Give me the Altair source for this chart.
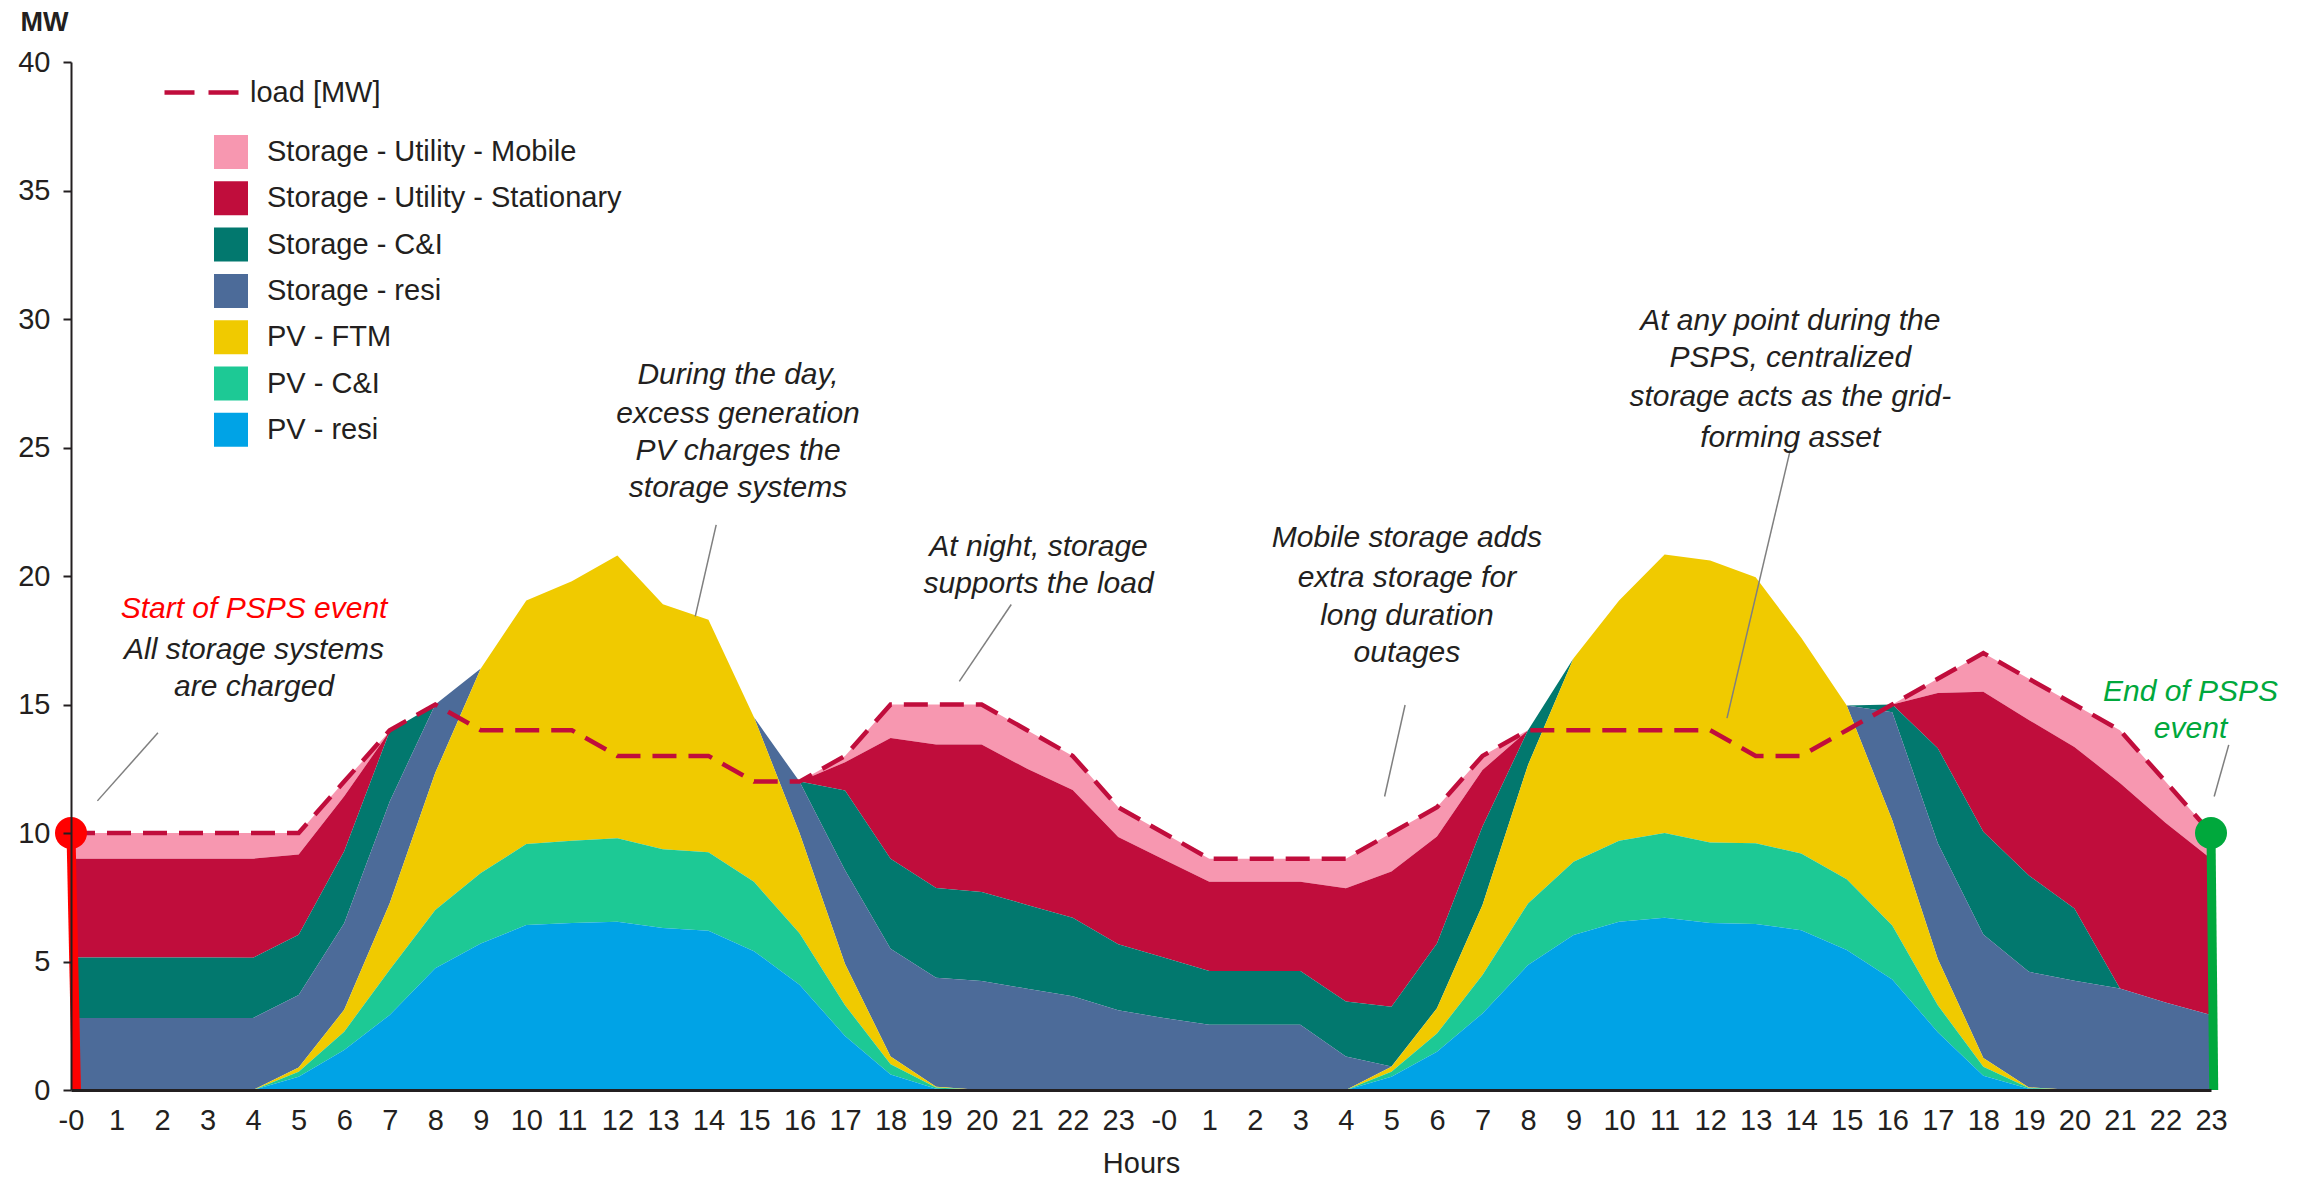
import altair as alt
import pandas as pd

FONT = "Liberation Sans"
INK = "#231F20"

# ---------------- data ----------------
hours = list(range(48))
tick_labels = ["-0"] + [str(h) for h in range(1, 24)] + ["-0"] + [str(h) for h in range(1, 24)]

pv_resi = [0, 0, 0, 0, 0, 0.52, 1.56, 2.92, 4.74, 5.7, 6.42, 6.5, 6.55, 6.3, 6.2, 5.4, 4.1, 2.1, 0.6, 0.05, 0, 0, 0, 0,
           0, 0, 0, 0, 0, 0.52, 1.49, 2.98, 4.86, 6.03, 6.55, 6.7, 6.5, 6.46, 6.22, 5.45, 4.3, 2.25, 0.55, 0.05, 0, 0, 0, 0]
pv_ci = [0, 0, 0, 0, 0, 0.19, 0.71, 1.76, 2.26, 2.74, 3.15, 3.2, 3.25, 3.07, 3.05, 2.7, 2.0, 1.2, 0.4, 0.05, 0, 0, 0, 0,
         0, 0, 0, 0, 0, 0.19, 0.71, 1.49, 2.4, 2.85, 3.15, 3.3, 3.13, 3.14, 2.98, 2.75, 2.1, 1.05, 0.35, 0.03, 0, 0, 0, 0]
pv_ftm = [0, 0, 0, 0, 0, 0.17, 0.85, 2.59, 5.34, 7.96, 9.48, 10.1, 11.0, 9.53, 9.05, 6.4, 3.9, 1.6, 0.3, 0.03, 0, 0, 0, 0,
          0, 0, 0, 0, 0, 0.19, 0.98, 2.73, 5.39, 7.92, 9.35, 10.84, 10.97, 10.35, 8.4, 6.76, 4.1, 1.8, 0.35, 0.02, 0, 0, 0, 0]
st_resi = [2.8, 2.8, 2.8, 2.8, 2.8, 2.82, 3.37, 3.96, 2.66, 0, 0, 0, 0, 0, 0, 0, 2.0, 3.65, 4.2, 4.24, 4.24, 3.94, 3.65, 3.1,
           2.8, 2.54, 2.54, 2.54, 1.3, 0.01, 0, 0, 0, 0, 0, 0, 0, 0, 0, 0, 4.2, 4.5, 4.8, 4.5, 4.25, 3.95, 3.4, 2.92]
st_ci = [2.36, 2.36, 2.36, 2.36, 2.35, 2.34, 2.8, 2.73, 0, 0, 0, 0, 0, 0, 0, 0, 0, 3.1, 3.5, 3.49, 3.46, 3.26, 3.05, 2.57,
         2.36, 2.09, 2.09, 2.09, 2.14, 2.33, 2.52, 3.05, 1.35, 0, 0, 0, 0, 0, 0, 0, 0.3, 3.7, 4.0, 3.75, 2.81, 0, 0, 0]
st_stat = [3.84, 3.84, 3.84, 3.84, 3.85, 3.12, 2.14, 0, 0, 0, 0, 0, 0, 0, 0, 0, 0, 1.1, 4.7, 5.58, 5.74, 5.3, 4.97, 4.17,
           3.81, 3.47, 3.47, 3.47, 4.41, 5.26, 4.16, 2.2, 0, 0, 0, 0, 0, 0, 0, 0, 0, 2.15, 5.45, 6.05, 6.29, 8.0, 7.0, 6.08]
st_mob = [1.0, 1.0, 1.0, 1.0, 1.0, 0.84, 0.57, 0, 0, 0, 0, 0, 0, 0, 0, 0, 0, 0.25, 1.3, 1.56, 1.56, 1.5, 1.33, 1.16,
          1.03, 0.9, 0.9, 0.9, 1.15, 1.5, 1.14, 0.55, 0, 0, 0, 0, 0, 0, 0, 0, 0, 0.55, 1.5, 1.6, 1.65, 2.05, 1.6, 1.0]
load = [10, 10, 10, 10, 10, 10, 12, 14, 15, 14, 14, 14, 13, 13, 13, 12, 12, 13, 15, 15, 15, 14, 13, 11,
        10, 9, 9, 9, 9, 10, 11, 13, 14, 14, 14, 14, 14, 13, 13, 14, 15, 16, 17, 16, 15, 14, 12, 10]

series_names = ["Storage - Utility - Mobile", "Storage - Utility - Stationary", "Storage - C&I",
                "Storage - resi", "PV - FTM", "PV - C&I", "PV - resi"]
series_colors = ["#F797B0", "#C00D3C", "#02786E", "#4C6B99", "#F0CA00", "#1DC995", "#00A3E6"]
series_values = [st_mob, st_stat, st_ci, st_resi, pv_ftm, pv_ci, pv_resi]

load_name = "load [MW]"
load_color = "#C00D3C"

# annotations (text, hour, MW, colour)
RED = "#FF0000"
GREEN = "#00A83C"
annot_text = ["Start of PSPS event", "All storage systems", "are charged",
              "During the day,", "excess generation", "PV charges the", "storage systems",
              "At night, storage", "supports the load",
              "Mobile storage adds", "extra storage for", "long duration", "outages",
              "At any point during the", "PSPS, centralized", "storage acts as the grid-", "forming asset",
              "End of PSPS", "event"]
annot_hour = [4.02, 4.02, 4.02,
              14.65, 14.65, 14.65, 14.65,
              21.25, 21.25,
              29.34, 29.34, 29.34, 29.34,
              37.76, 37.76, 37.76, 37.76,
              46.55, 46.55]
annot_mw = [18.71, 17.11, 15.67,
            27.84, 26.29, 24.86, 23.42,
            21.13, 19.69,
            21.47, 19.92, 18.43, 16.99,
            29.91, 28.47, 26.98, 25.37,
            15.5, 14.06]
annot_color = [RED, INK, INK, INK, INK, INK, INK, INK, INK, INK, INK, INK, INK, INK, INK, INK, INK, GREEN, GREEN]

# leader lines (start hour, start MW, end hour, end MW)
lead_h1 = [0.58, 13.71, 19.51, 28.85, 36.37, 47.07]
lead_m1 = [11.25, 18.43, 15.9, 11.42, 14.47, 11.42]
lead_h2 = [1.91, 14.17, 20.65, 29.30, 37.76, 47.39]
lead_m2 = [13.9, 21.99, 18.89, 14.98, 24.91, 13.43]

# event markers
mark_hour = [0, 47]
mark_mw = [10, 10]
mark_hour2 = [0.12, 47.06]
mark_mw2 = [0, 0]
mark_color = [RED, GREEN]

# ---------------- tables ----------------
rows = []
n = len(series_names)
for k, (name, vals) in enumerate(zip(series_names, series_values)):
    for h, v in zip(hours, vals):
        rows.append({"hour": h, "mw": v, "series": name, "stack": n - 1 - k})
area_df = pd.DataFrame(rows)
load_df = pd.DataFrame({"hour": hours, "mw": load, "name": load_name})
annot_df = pd.DataFrame({"hour": annot_hour, "mw": annot_mw, "text": annot_text, "color": annot_color})
lead_df = pd.DataFrame({"hour": lead_h1, "mw": lead_m1, "hour2": lead_h2, "mw2": lead_m2})
mark_df = pd.DataFrame({"hour": mark_hour, "mw": mark_mw, "hour2": mark_hour2, "mw2": mark_mw2, "color": mark_color})

# ---------------- encodings ----------------
label_expr = "[" + ",".join("'" + t + "'" for t in tick_labels) + "][datum.value]"

x_axis = alt.Axis(values=hours, labelExpr=label_expr, ticks=False, tickSize=0, labelPadding=30,
                  labelBaseline="middle", labelFontSize=29, labelFont=FONT, labelColor=INK,
                  labelOverlap=False, labelFlush=False, domainColor=INK, domainWidth=3, grid=False,
                  title="Hours", titleFont=FONT, titleFontSize=29, titleFontWeight="normal",
                  titleColor=INK, titleY=73, titleBaseline="middle", zindex=1)
y_axis = alt.Axis(values=list(range(0, 41, 5)), tickSize=8, tickWidth=2, tickColor=INK, labelPadding=13,
                  labelFontSize=29, labelFont=FONT, labelColor=INK, labelBaseline="middle",
                  domainColor=INK, domainWidth=2, grid=False,
                  title="MW", titleAngle=0, titleX=-27, titleY=-40, titleFont=FONT, titleFontSize=27,
                  titleFontWeight="bold", titleColor=INK, titleAlign="center", titleBaseline="middle", zindex=1)

X = alt.X("hour:Q", scale=alt.Scale(domain=[0, 47], nice=False, zero=False), axis=x_axis)
Y = alt.Y("mw:Q", scale=alt.Scale(domain=[0, 40], nice=False), axis=y_axis)

areas = alt.Chart(area_df).mark_area(opacity=1, interpolate="linear").encode(
    x=X,
    y=alt.Y("mw:Q", stack="zero", scale=alt.Scale(domain=[0, 40], nice=False), axis=y_axis),
    fill=alt.Fill("series:N", scale=alt.Scale(domain=series_names, range=series_colors),
                  legend=alt.Legend(orient="none", legendX=143, legendY=73, title=None, direction="vertical",
                                    symbolType="square", symbolSize=1156, symbolStrokeWidth=0,
                                    symbolOpacity=1, labelFont=FONT, labelFontSize=29, labelColor=INK,
                                    labelOffset=19, rowPadding=12.3, padding=0, labelLimit=600)),
    order=alt.Order("stack:Q"),
)

line = alt.Chart(load_df).mark_line(strokeWidth=4.5, strokeDash=[24, 12]).encode(
    x=X, y=Y,
    stroke=alt.Stroke("name:N", scale=alt.Scale(domain=[load_name], range=[load_color]),
                      legend=alt.Legend(orient="none", legendX=91, legendY=-9, title=None,
                                        symbolType="stroke", symbolSize=5476, symbolStrokeWidth=4.5,
                                        symbolDash=[30, 14], labelFont=FONT, labelFontSize=29,
                                        labelColor=INK, labelOffset=9, padding=0)),
)

leaders = alt.Chart(lead_df).mark_rule(color="#7F7F7F", strokeWidth=1.5).encode(
    x=X, y=Y, x2="hour2:Q", y2="mw2:Q")

marker_rules = alt.Chart(mark_df).mark_rule(strokeWidth=9).encode(
    x=X, y=Y, x2="hour2:Q", y2="mw2:Q", color=alt.Color("color:N", scale=None))

marker_pts = alt.Chart(mark_df).mark_circle(size=1024, opacity=1).encode(
    x=X, y=Y, color=alt.Color("color:N", scale=None))

texts = alt.Chart(annot_df).mark_text(font=FONT, fontSize=30, fontStyle="italic",
                                      align="center", baseline="middle").encode(
    x=X, y=Y, text="text:N", color=alt.Color("color:N", scale=None))

chart = alt.layer(areas, line, leaders, marker_rules, marker_pts, texts).properties(
    width=2140, height=1028,
    padding={"left": 63, "top": 54, "right": 94, "bottom": 91},
    autosize=alt.AutoSizeParams(type="none"),
    background="white",
).configure_view(stroke=None)

chart.save("out.html", embed_options={"renderer": "svg", "actions": False})
